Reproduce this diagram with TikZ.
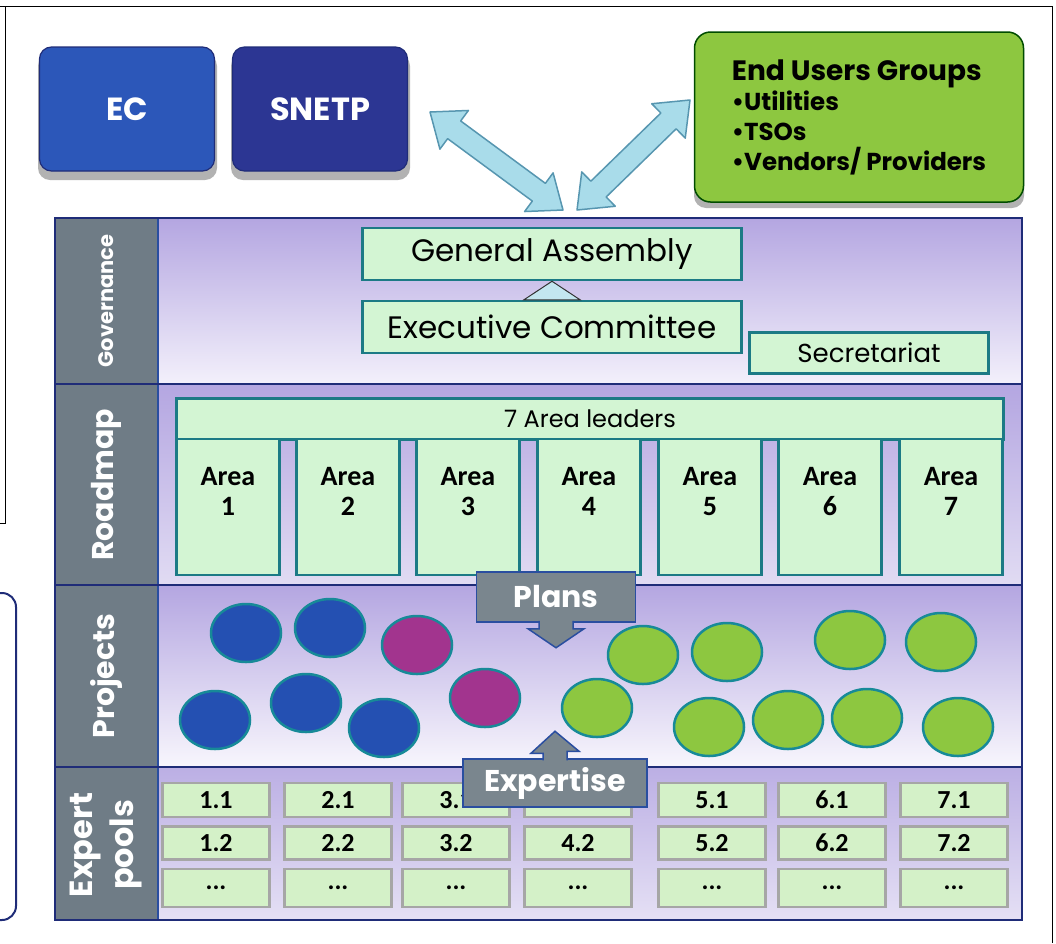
\documentclass[tikz,border=0pt]{standalone}
\usepackage{fontspec}
\setmainfont{Poppins}
\newfontfamily\calib{Carlito}
\usetikzlibrary{calc,positioning,shapes.geometric}
\definecolor{navy}{HTML}{1F2C78}
\definecolor{ecblue}{HTML}{2C57B9}
\definecolor{snblue}{HTML}{2C3693}
\definecolor{usergreen}{HTML}{8DC740}
\definecolor{boxgreen}{HTML}{D3F5D3}
\definecolor{poolgreen}{HTML}{D4F1C8}
\definecolor{tealline}{HTML}{1C7A85}
\definecolor{sidegray}{HTML}{6F7C86}
\definecolor{sepblue}{HTML}{2A4EA0}
\definecolor{lav}{HTML}{B4A6E1}
\definecolor{pale}{HTML}{F3F0FB}
\definecolor{skyfill}{HTML}{A9DCEA}
\definecolor{skyline}{HTML}{5796B0}
\definecolor{flowgray}{HTML}{7A868E}
\definecolor{pblue}{HTML}{2450B2}
\definecolor{pmag}{HTML}{A2348E}
\definecolor{pring}{HTML}{178A98}
% fat two-headed arrow between two points
\newcommand\fatarrow[2]{%
  \filldraw[twoway] (#1)
    -- ($(#1)!30pt!(#2)!24pt!90:(#2)$)
    -- ($(#1)!30pt!(#2)!11pt!90:(#2)$)
    -- ($(#2)!30pt!(#1)!11pt!-90:(#1)$)
    -- ($(#2)!30pt!(#1)!24pt!-90:(#1)$)
    -- (#2)
    -- ($(#2)!30pt!(#1)!24pt!90:(#1)$)
    -- ($(#2)!30pt!(#1)!11pt!90:(#1)$)
    -- ($(#1)!30pt!(#2)!11pt!-90:(#2)$)
    -- ($(#1)!30pt!(#2)!24pt!-90:(#2)$)
    -- cycle;}
\begin{document}
\begin{tikzpicture}[x=1pt,y=-1pt,
    topbox/.style={draw=navy,line width=1.2pt,rounded corners=12pt,minimum width=175pt,minimum height=124pt,text=white,font=\bfseries\fontsize{32}{36}\selectfont},
    shadowbox/.style={fill=black!30,rounded corners=12pt},
    govbox/.style={draw=tealline,line width=2.5pt,fill=boxgreen,inner sep=0pt},
    areabox/.style={govbox,minimum width=103pt,minimum height=136pt},
    areatext/.style={font=\calib\bfseries\fontsize{28}{30}\selectfont,align=center},
    poolbox/.style={draw=black!35,line width=2.5pt,fill=poolgreen,minimum width=107pt,font=\calib\bfseries\fontsize{26}{28}\selectfont},
    project/.style={ellipse,draw=pring,line width=2.5pt,minimum width=70pt,minimum height=58pt},
    sidelabel/.style={rotate=90,text=white,font=\bfseries\fontsize{#1}{#1}\selectfont,align=center},
    flowbox/.style={draw=sepblue,line width=1.5pt,fill=flowgray,text=white,font=\bfseries\fontsize{30}{32}\selectfont},
    twoway/.style={fill=skyfill,draw=skyline,line width=1.5pt,line join=round}]
  \useasboundingbox (0,0) rectangle (1056,943);
  \clip (0,0) rectangle (1056,943);
  % edges of the scanned page
  \draw[line width=1pt] (0,6) -- (1052,6) -- (1052,943);
  \draw[line width=1pt] (5,6) -- (5,523) -- (0,523);
  \draw[navy,line width=2pt,rounded corners=14pt] (-40,593) rectangle (16,920);
  % top boxes
  \fill[shadowbox] (38,54) rectangle (217,180);
  \node[topbox,fill=ecblue] (ec) at (127,109) {EC};
  \fill[shadowbox] (231,54) rectangle (410,180);
  \node[topbox,fill=snblue] (snetp) at (320,109) {SNETP};
  \fill[shadowbox] (694,38) rectangle (1024,208);
  \node[draw=black!70!green,line width=1.5pt,rounded corners=16pt,fill=usergreen,minimum width=329pt,minimum height=170pt,align=left,font=\bfseries\fontsize{24.5}{30}\selectfont] (users) at (859,117)
    {{\fontsize{28}{30}\selectfont End Users Groups}\\\textbullet Utilities\\\textbullet TSOs\\\textbullet Vendors/ Providers};
  % panel
  \shade[top color=lav,bottom color=pale] (158,218) rectangle (1022,384);
  \shade[top color=lav,bottom color=lav!40!white] (158,384) rectangle (1022,585);
  \shade[top color=lav,bottom color=pale!60!white] (158,585) rectangle (1022,767);
  \shade[top color=lav!90!white,bottom color=lav!35!white] (158,767) rectangle (1022,920);
  \fill[sidegray] (55,218) rectangle (158,920);
  \draw[sepblue,line width=2pt] (158,218) -- (158,920);
  \foreach \y in {384,585,767} \draw[navy,line width=1.2pt] (55,\y) -- (1022,\y);
  \draw[navy,line width=1.5pt] (55,218) rectangle (1022,920);
  \node[sidelabel=21] (lgov) at (106,301) {Governance};
  \node[sidelabel=30] (lroad) at (106,485) {Roadmap};
  \node[sidelabel=30] (lproj) at (106,676) {Projects};
  \node[sidelabel=32] (lpool) at (106,845) {Expert\\[8pt]pools};
  % governance
  \node[govbox,minimum width=379pt,minimum height=52pt,font=\fontsize{31}{32}\selectfont] (ga) at (552,254) {General Assembly};
  \node[govbox,minimum width=379pt,minimum height=52pt,font=\fontsize{31}{32}\selectfont] (exec) at (552,327) {Executive Committee};
  \filldraw[fill=skyfill!70!white,draw=black!80,line width=1pt] (ga.south) -- ($(exec.north)+(28,0)$) -- ($(exec.north)+(-28,0)$) -- cycle;
  \node[govbox,minimum width=239pt,minimum height=41pt,font=\fontsize{26}{28}\selectfont] (sec) at (869,353) {Secretariat};
  % roadmap
  \node[govbox,minimum width=827pt,minimum height=41pt,font=\fontsize{24}{26}\selectfont] (leaders) at (590,419) {7 Area leaders};
  \foreach \x [count=\i] in {228,348,468,589,710,830,951}{
    \node[areabox] (area\i) at (\x,507) {};
    \node[areatext,below=26pt of area\i.north] (areat\i) {Area\\\i};
  }
  % projects
  \foreach \x/\y/\c [count=\i] in {246/633/pblue,330/628/pblue,417/645/pmag,215/720/pblue,306/703/pblue,384/728/pblue,485/698/pmag,597/708/usergreen,643/655/usergreen,727/652/usergreen,850/640/usergreen,941/642/usergreen,709/727/usergreen,788/720/usergreen,867/718/usergreen,958/727/usergreen}
    \node[project,fill=\c] (proj\i) at (\x,\y) {};
  \node[flowbox,minimum width=159pt,minimum height=50pt] (plans) at (556,597) {Plans};
  \filldraw[fill=flowgray,draw=sepblue,line width=1.5pt] ($(plans.south)+(-17,-2)$) -- ++(0,8) -- ++(-11,0) -- ($(plans.south)+(0,25)$) -- ($(plans.south)+(28,6)$) -- ++(-11,0) -- ($(plans.south)+(17,-2)$);
  % expert pools
  \foreach \x [count=\i] in {216,338,456,578,712,832,954}{
    \node[poolbox,minimum height=34pt] (pool\i-1) at (\x,800) {\ifnum\i=4\else\i.1\fi};
    \node[poolbox,minimum height=33pt] (pool\i-2) at (\x,843) {\i.2};
    \node[poolbox,minimum height=38pt] (pool\i-3) at (\x,888) {...};
  }
  \node[flowbox,minimum width=184pt,minimum height=48pt] (expert) at (555,783) {Expertise};
  \filldraw[fill=flowgray,draw=sepblue,line width=1.5pt] ($(expert.north)+(-12,2)$) -- ++(0,-7) -- ++(-12,0) -- ($(expert.north)+(0,-27)$) -- ($(expert.north)+(24,-7)$) -- ++(-12,0) -- ($(expert.north)+(12,2)$);
  % links to the outside
  \coordinate (snetpend) at (430,112);
  \coordinate (hubl) at (563,210);
  \coordinate (hubr) at (577,210);
  \coordinate (usersend) at (690,100);
  \fatarrow{snetpend}{hubl}
  \fatarrow{hubr}{usersend}
\end{tikzpicture}
\end{document}
